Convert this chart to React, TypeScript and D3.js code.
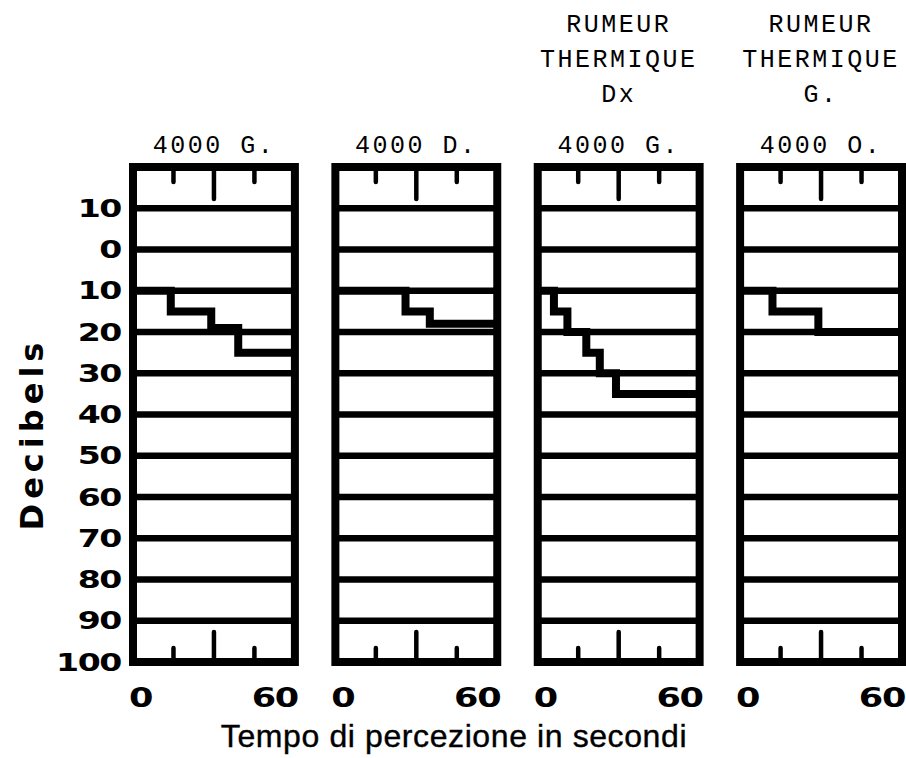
import * as d3 from "d3";

// panel captions, left to right
const panelTitles = ["4000 G.", "4000 D.", "4000 G.", "4000 O."];
const panelNotes = [[], [], ["RUMEUR", "THERMIQUE", "Dx"], ["RUMEUR", "THERMIQUE", "G."]];

// threshold steps: time (s) where each level starts, and level (dB)
const stepTimes = [
  [0, 14, 29, 39, 60],
  [0, 26, 35, 60],
  [0, 6, 11, 18, 23, 29, 60],
  [0, 12, 29, 60],
];
const stepLevels = [
  [10, 15, 19, 25, 25],
  [10, 15, 18, 18],
  [10, 15, 20, 25, 30, 35, 35],
  [10, 15, 20, 20],
];

const dbTicks = [-10, 0, 10, 20, 30, 40, 50, 60, 70, 80, 90, 100];
const dbLabels = ["10", "0", "10", "20", "30", "40", "50", "60", "70", "80", "90", "100"];
const timeTicks = [15, 30, 45];
const timeLabels = ["0", "60"];

export default function App() {
  const W = 906;
  const H = 758;

  const panel = d3.scaleBand<number>()
    .domain(d3.range(panelTitles.length))
    .range([133, 902])
    .paddingInner(0.2);
  const bw = panel.bandwidth();

  const x = d3.scaleLinear().domain([0, 60]).range([0, bw]);
  const y = d3.scaleLinear().domain([-20, 100]).range([167, 662]);

  const line = d3.line<[number, number]>()
    .x(d => x(d[0]))
    .y(d => y(d[1]))
    .curve(d3.curveStepAfter);

  const boldNum = { fontFamily: "DejaVu Sans", fontWeight: 700 };
  const mono = { fontFamily: "Liberation Mono", fontSize: 25, letterSpacing: 2.5 };

  return (
    <svg width={W} height={H} style={{ position: "absolute", left: 0, top: 0, background: "#fff" }}>
      {/* y axis labels */}
      {dbTicks.map((v, i) => (
        <text key={"yl" + i} transform={`translate(121,${y(v) + 8.7}) scale(1.38,1)`}
          textAnchor="end" fontSize={24} letterSpacing={-1} {...boldNum}>
          {dbLabels[i]}
        </text>
      ))}
      <text transform="translate(43,434) rotate(-90)" textAnchor="middle" fontSize={32}
        letterSpacing={5} {...boldNum}>Decibels</text>

      {panelTitles.map((title, p) => {
        const left = panel(p)!;
        const pts: [number, number][] = stepTimes[p].map((t, i) => [t, stepLevels[p][i]]);
        return (
          <g key={p} transform={`translate(${left},0)`}>
            {/* captions */}
            {panelNotes[p].map((n, i) => (
              <text key={n + i} x={bw / 2} y={32 + i * 35} textAnchor="middle" {...mono}>{n}</text>
            ))}
            <text x={bw / 2} y={153} textAnchor="middle" {...mono}>{title}</text>

            {/* grid */}
            {dbTicks.slice(0, -1).map(v => (
              <line key={v} x1={0} x2={bw} y1={y(v)} y2={y(v)} stroke="#000" strokeWidth={6.5} />
            ))}

            {/* ticks top and bottom */}
            {timeTicks.map(t => (
              <g key={t}>
                <line x1={x(t)} x2={x(t)} y1={y(-20)} y2={y(-20) + (t === 30 ? 32 : 15)}
                  stroke="#000" strokeWidth={4.5} strokeLinecap="round" />
                <line x1={x(t)} x2={x(t)} y1={y(100)} y2={y(100) - (t === 30 ? 30 : 14)}
                  stroke="#000" strokeWidth={4.5} strokeLinecap="round" />
              </g>
            ))}

            {/* threshold steps */}
            <path d={line(pts) ?? ""} fill="none" stroke="#000" strokeWidth={8} strokeLinejoin="miter" />

            {/* frame */}
            <rect x={0} y={y(-20)} width={bw} height={y(100) - y(-20)} fill="none" stroke="#000" strokeWidth={8} />

            {/* x labels */}
            <text transform={`translate(${x(0) - 4},707) scale(1.3,1)`} textAnchor="start"
              fontSize={27} {...boldNum}>{timeLabels[0]}</text>
            <text transform={`translate(${x(60) + 3},707) scale(1.3,1)`} textAnchor="end"
              fontSize={27} letterSpacing={-1} {...boldNum}>{timeLabels[1]}</text>
          </g>
        );
      })}

      <text x={454} y={747} textAnchor="middle" fontFamily="Liberation Sans" fontSize={32}
        letterSpacing={0.6} stroke="#000" strokeWidth={0.4}>Tempo di percezione in secondi</text>
    </svg>
  );
}
